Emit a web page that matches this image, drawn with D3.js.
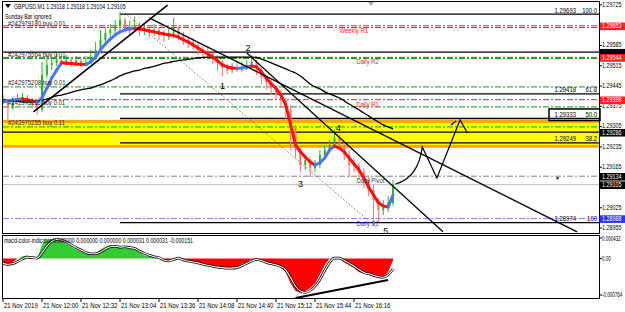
<!DOCTYPE html>
<html>
<head>
<meta charset="utf-8">
<script src="https://d3js.org/d3.v7.min.js"></script>
<style>
  body { margin: 0; background: #fff; }
  svg { display: block; font-family: "Liberation Sans", Arial, sans-serif; }
</style>
</head>
<body>
<svg id="chart" width="625" height="312"></svg>
<script>
// ---- data (GBPUSD M1, bars grouped by 4 minutes) ----
const startTime = new Date(2019, 10, 21, 11, 28);
const barMinutes = 4;

const closes = [1.29397,1.29369,1.29397,1.29404,1.29407,1.29397,1.29383,1.29363,1.29483,1.29518,
  1.29525,1.29535,1.29528,1.29535,1.29525,1.29532,1.29525,1.29528,1.29545,1.29570,
  1.29604,1.29628,1.29639,1.29652,1.29673,1.29645,1.29649,1.29656,1.29639,1.29642,
  1.29632,1.29639,1.29621,1.29618,1.29628,1.29645,1.29621,1.29604,1.29597,1.29587,
  1.29570,1.29563,1.29559,1.29542,1.29525,1.29507,1.29500,1.29507,1.29505,1.29511,
  1.29518,1.29528,1.29500,1.29473,1.29459,1.29438,1.29414,1.29397,1.29363,1.29300,
  1.29225,1.29173,1.29190,1.29162,1.29173,1.29207,1.29225,1.29242,1.29266,1.29242,
  1.29207,1.29173,1.29170,1.29149,1.29121,1.29087,1.29052,1.29017,1.29024,1.29042,
  1.29105];
const highs = [1.29414,1.29400,1.29407,1.29418,1.29421,1.29414,1.29404,1.29394,1.29528,1.29552,
  1.29545,1.29563,1.29549,1.29552,1.29545,1.29549,1.29542,1.29549,1.29570,1.29597,
  1.29639,1.29649,1.29659,1.29673,1.29701,1.29680,1.29670,1.29683,1.29666,1.29659,
  1.29656,1.29659,1.29649,1.29639,1.29645,1.29680,1.29652,1.29632,1.29618,1.29611,
  1.29594,1.29583,1.29580,1.29570,1.29552,1.29535,1.29521,1.29525,1.29528,1.29528,
  1.29535,1.29552,1.29535,1.29507,1.29483,1.29466,1.29445,1.29432,1.29404,1.29380,
  1.29311,1.29231,1.29207,1.29197,1.29190,1.29225,1.29242,1.29259,1.29294,1.29276,
  1.29252,1.29225,1.29197,1.29180,1.29162,1.29135,1.29104,1.29059,1.29052,1.29066,
  1.29121];
const lows = [1.29383,1.29328,1.29363,1.29390,1.29394,1.29383,1.29369,1.29345,1.29356,1.29473,
  1.29500,1.29514,1.29514,1.29518,1.29511,1.29514,1.29511,1.29514,1.29521,1.29535,
  1.29563,1.29590,1.29611,1.29625,1.29639,1.29628,1.29625,1.29632,1.29618,1.29621,
  1.29611,1.29618,1.29604,1.29597,1.29604,1.29611,1.29604,1.29587,1.29576,1.29570,
  1.29552,1.29545,1.29535,1.29521,1.29500,1.29480,1.29487,1.29490,1.29494,1.29494,
  1.29500,1.29507,1.29483,1.29452,1.29432,1.29414,1.29397,1.29369,1.29328,1.29225,
  1.29197,1.29149,1.29156,1.29131,1.29149,1.29162,1.29197,1.29214,1.29231,1.29225,
  1.29190,1.29131,1.29149,1.29121,1.29093,1.29066,1.28966,1.28976,1.29000,1.29011,
  1.29031];
// fast colour MA (blue when rising, red when falling)
const fastMa = [1.29390,1.29394,1.29397,1.29399,1.29400,1.29397,1.29394,1.29390,1.29404,1.29438,
  1.29473,1.29500,1.29525,1.29524,1.29523,1.29521,1.29520,1.29519,1.29528,1.29545,
  1.29570,1.29590,1.29607,1.29621,1.29632,1.29639,1.29642,1.29644,1.29642,1.29639,
  1.29635,1.29632,1.29628,1.29625,1.29621,1.29620,1.29614,1.29604,1.29597,1.29587,
  1.29576,1.29566,1.29556,1.29545,1.29532,1.29518,1.29511,1.29507,1.29506,1.29507,
  1.29511,1.29514,1.29511,1.29494,1.29473,1.29452,1.29438,1.29414,1.29380,1.29311,
  1.29242,1.29218,1.29200,1.29183,1.29173,1.29180,1.29197,1.29225,1.29238,1.29231,
  1.29218,1.29197,1.29176,1.29156,1.29128,1.29097,1.29069,1.29042,1.29031,1.29028,
  1.29069];
// slow black MA
const slowMa = [1.29397,1.29395,1.29394,1.29392,1.29390,1.29390,1.29390,1.29392,1.29397,1.29400,
  1.29406,1.29411,1.29414,1.29418,1.29423,1.29428,1.29432,1.29435,1.29438,1.29444,
  1.29449,1.29456,1.29463,1.29471,1.29480,1.29487,1.29492,1.29497,1.29500,1.29506,
  1.29509,1.29513,1.29518,1.29523,1.29526,1.29530,1.29533,1.29535,1.29537,1.29540,
  1.29542,1.29544,1.29545,1.29545,1.29545,1.29545,1.29545,1.29545,1.29545,1.29545,
  1.29545,1.29545,1.29544,1.29538,1.29532,1.29525,1.29518,1.29511,1.29504,1.29497,
  1.29490,1.29480,1.29466,1.29452,1.29442,1.29435,1.29425,1.29418,1.29411,1.29404,
  1.29394,1.29383,1.29373,1.29363,1.29352,1.29342,1.29331,1.29321,1.29311,1.29304,
  1.29297];
const macd = [-0.000116,-0.000156,-0.000075,0,0.000047,0.000067,-0.000014,0,0.00029,0.00039,
  0.00041,0.00041,0.00037,0.00031,0.00025,0.00019,0.00015,0.00011,0.00009,0.00011,
  0.00019,0.00025,0.00029,0.00025,0.00023,0.00027,0.00021,0.00019,0.00013,0.000067,
  0.000047,0.000026,0.000006,-0.000055,-0.000055,0.000006,0.000026,-0.000055,-0.000055,-0.000075,
  -0.000095,-0.000136,-0.000156,-0.000176,-0.000197,-0.000197,-0.000197,-0.000197,-0.000176,-0.000116,
  -0.000075,-0.000014,-0.000014,-0.000055,-0.000095,-0.000116,-0.000136,-0.000197,-0.00028,-0.00052,
  -0.00068,-0.00072,-0.00068,-0.00062,-0.00052,-0.00034,-0.000136,0.000006,0.000026,0.000006,
  -0.000075,-0.000136,-0.000197,-0.00028,-0.00032,-0.00034,-0.00038,-0.0004,-0.00038,-0.00028,
  -0.000035];
const signal = [-0.00010,-0.00012,-0.00011,-0.00006,-0.00001,0.00003,0.00002,0.00001,0.00012,0.00026,
  0.00036,0.00040,0.00039,0.00035,0.00029,0.00023,0.00018,0.00013,0.00010,0.00010,
  0.00014,0.00020,0.00025,0.00026,0.00024,0.00025,0.00023,0.00021,0.00016,0.00011,
  0.00007,0.00004,0.00002,-0.00003,-0.00005,-0.00002,0.00001,-0.00003,-0.00005,-0.00007,
  -0.00009,-0.00012,-0.00014,-0.00016,-0.00018,-0.00019,-0.00020,-0.00020,-0.00019,-0.00015,
  -0.00010,-0.00005,-0.00002,-0.00004,-0.00008,-0.00011,-0.00013,-0.00017,-0.00024,-0.00040,
  -0.00058,-0.00068,-0.00071,-0.00067,-0.00058,-0.00044,-0.00025,-0.00008,0.00001,0.00001,
  -0.00004,-0.00010,-0.00016,-0.00023,-0.00029,-0.00032,-0.00035,-0.00038,-0.00039,-0.00034,
  -0.00022];

const priceTicks = [1.29725,1.29655,1.29585,1.29515,1.29445,1.29375,1.29305,1.29235,1.29165,1.29095,1.29025,1.28955];
const macdTicks = [0.000432, 0, -0.000764];
const macdTickText = ["0.000432", "0.00", "-0.000764"];
const timeTickMinutes = [0, 32, 64, 96, 128, 160, 192, 224, 256, 288];
const timeTickText = ["21 Nov 2019","21 Nov 12:00","21 Nov 12:32","21 Nov 13:04","21 Nov 13:36",
  "21 Nov 14:08","21 Nov 14:40","21 Nov 15:12","21 Nov 15:44","21 Nov 16:16"];

const pivotNames = ["Weekly R1", "Daily R2", "Daily R1", "Daily Pivot", "Daily S1"];
const pivotPrices = [1.29653, 1.29544, 1.29398, 1.29134, 1.28988];
const orderNames = ["#242979180 buy 0.01", "#242975564 buy 0.01", "#242975208 buy 0.01", "#242973115 buy 0.01", "#242970255 buy 0.11"];
const orderPrices = [1.29647, 1.29540, 1.29442, 1.29373, 1.29304];
const fibPrices = [1.29693, 1.29418, 1.29333, 1.29249, 1.28974];
const fibNames = ["100.0", "61.8", "50.0", "38.2", "100"];
const levelPrices = [1.29562, 1.29286];   // plain horizontal lines
const zoneOuter = [1.29328, 1.29232];
const zoneInner = [1.29318, 1.29242];
const waveNames = ["1", "2", "3", "4", "5"];
const waveMinutes = [180, 201, 244, 275, 314];
const wavePrices = [1.29449, 1.29580, 1.29111, 1.29304, 1.28949];
const zigMinutes = [322, 344, 356, 375, 381];
const zigPrices = [1.29107, 1.29235, 1.29128, 1.29328, 1.29283];

// ---- scales ----
const W = 625, H = 312, L = 3, R = 599;
const T = m => d3.timeMinute.offset(startTime, m);
const x = d3.scaleTime().domain([startTime, T(489)]).range([L, R]);
const y = d3.scaleLinear().domain([1.28938, 1.29735]).range([233, 2]);
const yM = d3.scaleLinear().domain([-0.000827, 0.000495]).range([298, 235]);

const bars = closes.map((c, i) => ({
  t: T(i * barMinutes), o: i ? closes[i - 1] : c, c, h: highs[i], l: lows[i],
  fast: fastMa[i], slow: slowMa[i], m: macd[i], s: signal[i]
}));

const svg = d3.select("#chart");
svg.append("rect").attr("width", W).attr("height", H).attr("fill", "#fff");

const SX = 0.85;
function label(g, px, py, s, o = {}) {
  return g.append("text")
    .attr("transform", `translate(${px},${py}) scale(${o.sx || SX},1)`)
    .attr("font-size", o.size || 7)
    .attr("fill", o.fill || "#000")
    .attr("text-anchor", o.anchor || "start")
    .text(s);
}

const defs = svg.append("defs");
defs.append("clipPath").attr("id", "clipMain").append("rect")
  .attr("x", L).attr("y", 2).attr("width", R - L).attr("height", 231);
defs.append("clipPath").attr("id", "clipInd").append("rect")
  .attr("x", L).attr("y", 236).attr("width", R - L).attr("height", 62);

const main = svg.append("g").attr("clip-path", "url(#clipMain)");
const DASHDOT = "6,2,2,2";

// supply/demand zone
main.append("rect").attr("x", L).attr("width", R - L)
  .attr("y", y(zoneOuter[0])).attr("height", y(zoneOuter[1]) - y(zoneOuter[0])).attr("fill", "#ffa500");
main.append("rect").attr("x", L).attr("width", R - L)
  .attr("y", y(zoneInner[0])).attr("height", y(zoneInner[1]) - y(zoneInner[0])).attr("fill", "#ffff00");

// order lines
orderPrices.forEach(p => {
  main.append("line").attr("x1", L).attr("x2", R).attr("y1", y(p)).attr("y2", y(p))
    .attr("stroke", "#119911").attr("stroke-width", 1).attr("stroke-dasharray", DASHDOT);
});
// pivot lines
const pivotColors = ["#ff2020", "#ff2020", "#ff2020", "#808080", "#8888ff"];
pivotPrices.forEach((p, i) => {
  main.append("line").attr("x1", L).attr("x2", R).attr("y1", y(p)).attr("y2", y(p))
    .attr("stroke", pivotColors[i]).attr("stroke-width", 1).attr("stroke-dasharray", DASHDOT);
});
// current bid
main.append("line").attr("x1", L).attr("x2", R).attr("y1", y(closes[closes.length - 1])).attr("y2", y(closes[closes.length - 1]))
  .attr("stroke", "#c0c0c0").attr("stroke-width", 1);
// plain black levels
levelPrices.forEach(p => {
  main.append("line").attr("x1", L).attr("x2", R).attr("y1", y(p)).attr("y2", y(p))
    .attr("stroke", "#000").attr("stroke-width", 1.3);
});
// fibo retracement from the 13:04 high
const fibX = x(T(96));
fibPrices.forEach(p => {
  main.append("line").attr("x1", fibX).attr("x2", R).attr("y1", y(p)).attr("y2", y(p))
    .attr("stroke", "#000").attr("stroke-width", 1.3);
});

// candles
const bw = 2;
const candle = main.append("g");
bars.forEach(b => {
  const col = b.c >= b.o ? "#2fb02f" : "#ff7070";
  const cx = x(b.t);
  candle.append("line").attr("x1", cx).attr("x2", cx).attr("y1", y(b.h)).attr("y2", y(b.l))
    .attr("stroke", col).attr("stroke-width", 1);
  candle.append("rect").attr("x", cx - bw / 2).attr("width", bw)
    .attr("y", y(Math.max(b.o, b.c))).attr("height", Math.max(1, Math.abs(y(b.o) - y(b.c))))
    .attr("fill", col);
});

// slow MA
main.append("path").datum(bars)
  .attr("d", d3.line().x(d => x(d.t)).y(d => y(d.slow)).curve(d3.curveMonotoneX))
  .attr("fill", "none").attr("stroke", "#000").attr("stroke-width", 1.3);

// fast colour MA
for (let i = 1; i < bars.length; i++) {
  const a = bars[i - 1], b = bars[i];
  main.append("line").attr("x1", x(a.t)).attr("y1", y(a.fast)).attr("x2", x(b.t)).attr("y2", y(b.fast))
    .attr("stroke", b.fast > a.fast ? "#4a78f0" : "#ff1010").attr("stroke-width", 3)
    .attr("stroke-linecap", "round");
}

// trend lines
function trend(m1, p1, m2, p2, o = {}) {
  const x1 = x(T(m1)), y1 = y(p1), x2 = x(T(m2)), y2 = y(p2);
  const k = (y2 - y1) / (x2 - x1);
  const xe = o.extend ? R + 10 : x2;
  main.append("line").attr("x1", x1).attr("y1", y1).attr("x2", xe).attr("y2", y1 + k * (xe - x1))
    .attr("stroke", o.color || "#000").attr("stroke-width", o.width || 1.3)
    .attr("stroke-dasharray", o.dash || null);
}
trend(25, 1.29356, 135, 1.29724, { width: 1.6 });          // rising support
trend(120, 1.29680, 471, 1.28942, { width: 1.3 });         // falling line from 13:51 top
trend(200, 1.29559, 361, 1.28942, { width: 1.3 });         // line through 2 and 4
trend(100, 1.29697, 307, 1.28955, { width: 0.8, color: "#555", dash: "1.5,2" });

// projected zig-zag
const zp = zigMinutes.map((m, i) => [x(T(m)), y(zigPrices[i])]);
main.append("path")
  .attr("d", `M${zp[0]}Q${zp[1][0] - 4},${zp[0][1] - 6} ${zp[1]}L${zp[2]}L${zp[3]}L${zp[4]}`)
  .attr("fill", "none").attr("stroke", "#000").attr("stroke-width", 1.2);
main.append("path")
  .attr("d", `M${zp[3][0] - 9},${zp[3][1] + 5}L${zp[3][0] - 4},${zp[3][1] + 1}`)
  .attr("stroke", "#000").attr("stroke-width", 1.2);
main.append("rect").attr("x", x(T(455)) - 1).attr("y", y(pivotPrices[3]) + 1).attr("width", 2).attr("height", 2).attr("fill", "#000");

// texts on the chart
const tg = svg.append("g");
orderNames.forEach((s, i) => label(tg, 8, y(orderPrices[i]) - 2, s, { fill: "#222" }));
pivotNames.forEach((s, i) => {
  const lx = x(T(i === 0 ? 276 : 290));
  label(tg, lx, y(pivotPrices[i]) + 7, s, { fill: pivotColors[i] === "#8888ff" ? "#4040ff" : (i === 3 ? "#444" : "#ff2020") });
});
fibPrices.forEach((p, i) => {
  label(tg, 576, y(p) - 1.5, p.toFixed(5), { anchor: "end" });
  label(tg, 597, y(p) - 1.5, fibNames[i], { anchor: "end" });
});
// box around the 50.0 level
tg.append("rect").attr("x", 549).attr("y", y(1.29366)).attr("width", 51).attr("height", y(1.29326) - y(1.29366))
  .attr("fill", "none").attr("stroke", "#000").attr("stroke-width", 1.5);
waveNames.forEach((s, i) => {
  tg.append("text").attr("x", x(T(waveMinutes[i]))).attr("y", y(wavePrices[i]) + 4)
    .attr("font-size", 9).attr("text-anchor", "middle").attr("fill", "#000").text(s);
});
// header
tg.append("path").attr("d", "M5,4L11,4L8,8Z").attr("fill", "#000");
label(tg, 14, 9, "GBPUSD,M1  1.29118 1.29118 1.29104 1.29105", { sx: 0.75 });
label(tg, 5, 19, "Sunday Bar ignored", { sx: 0.75 });
tg.append("path").attr("d", `M${x(T(302)) - 3},2L${x(T(302)) + 3},2L${x(T(302))},6Z`).attr("fill", "#aaa");

// ---- indicator window ----
const ind = svg.append("g").attr("clip-path", "url(#clipInd)");
ind.append("path").datum(bars)
  .attr("d", d3.area().x(d => x(d.t)).y0(yM(0)).y1(d => yM(Math.max(d.m, 0))))
  .attr("fill", "#33cc33");
ind.append("path").datum(bars)
  .attr("d", d3.area().x(d => x(d.t)).y0(yM(0)).y1(d => yM(Math.min(d.m, 0))))
  .attr("fill", "#ff0000");
const sigLine = d3.line().x(d => x(d.t)).y(d => yM(d.s)).curve(d3.curveMonotoneX);
ind.append("path").datum(bars).attr("d", sigLine).attr("fill", "none").attr("stroke", "#000").attr("stroke-width", 2.6);
ind.append("path").datum(bars).attr("d", sigLine).attr("fill", "none").attr("stroke", "#fff").attr("stroke-width", 1.1);
// divergence line
ind.append("line").attr("x1", x(T(240))).attr("y1", yM(-0.000827)).attr("x2", x(T(316))).attr("y2", yM(-0.00045))
  .attr("stroke", "#000").attr("stroke-width", 2);
label(svg, 4, 243, "macd-color-indicator 0.000000 0.000000 0.000000 0.000031 0.000031 -0.000151", { sx: 0.75 });

// ---- frames ----
svg.append("rect").attr("x", 2.5).attr("y", 1.5).attr("width", R - 2).attr("height", 232)
  .attr("fill", "none").attr("stroke", "#000").attr("stroke-width", 1);
svg.append("rect").attr("x", 2.5).attr("y", 235.5).attr("width", R - 2).attr("height", 63)
  .attr("fill", "none").attr("stroke", "#000").attr("stroke-width", 1);

// ---- price axis ----
const ax = svg.append("g");
const boxes = [
  [pivotPrices[0], "#ff2020", true], [levelPrices[0], "#000", false], [pivotPrices[1], "#ff2020", true],
  [pivotPrices[2], "#ff2020", true], [levelPrices[1], "#000", true], [pivotPrices[3], "#000", true],
  [closes[closes.length - 1], "#000", true], [pivotPrices[4], "#3030ff", true]
];
priceTicks.forEach(p => {
  ax.append("line").attr("x1", R).attr("x2", R + 3).attr("y1", y(p)).attr("y2", y(p)).attr("stroke", "#000");
  // tick labels hidden behind a coloured price box are not drawn
  if (boxes.some(([bp]) => Math.abs(y(bp) - y(p)) < 5)) return;
  label(ax, R + 3, y(p) + 1.8, p.toFixed(5), { size: 6.4 });
});
boxes.forEach(([p, c, withText]) => {
  ax.append("rect").attr("x", R + 1).attr("y", y(p) - 3.2).attr("width", W - R - 1).attr("height", 7.6).attr("fill", c);
  if (withText) label(ax, R + 3, y(p) + 2.5, p.toFixed(5), { fill: "#fff", size: 6.4 });
});
macdTicks.forEach((v, i) => {
  ax.append("line").attr("x1", R).attr("x2", R + 3).attr("y1", yM(v)).attr("y2", yM(v)).attr("stroke", "#000");
  label(ax, R + 3, yM(v) + 2.5, macdTickText[i], { size: 6.6, sx: 0.68 });
});

// ---- time axis ----
timeTickMinutes.forEach((m, i) => {
  const tx = x(T(m));
  ax.append("line").attr("x1", tx).attr("x2", tx).attr("y1", 299).attr("y2", 302).attr("stroke", "#000");
  label(ax, tx + 1, 308, timeTickText[i]);
});
</script>
</body>
</html>
